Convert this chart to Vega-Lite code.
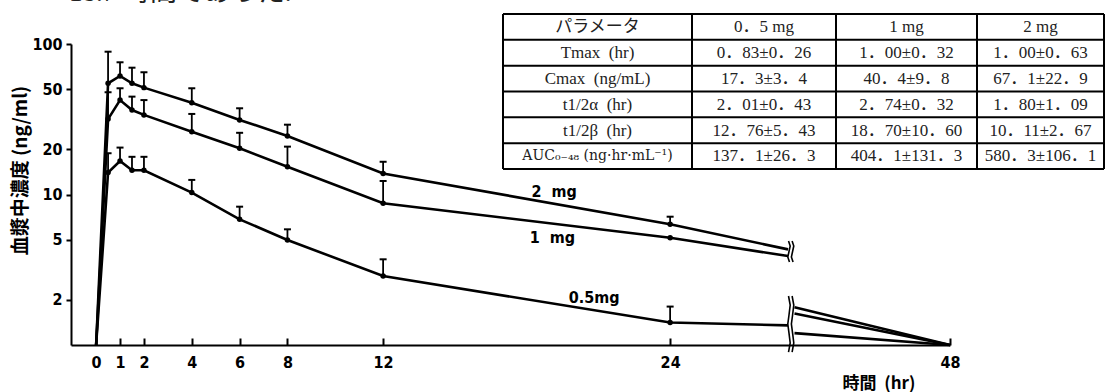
{
  "$schema": "https://vega.github.io/schema/vega-lite/v6.json",
  "width": 1033,
  "height": 335,
  "autosize": {"type": "none"},
  "padding": {"left": 71, "top": 10, "right": 2, "bottom": 47},
  "background": "white",
  "config": {"view": {"stroke": null}, "axis": {"grid": false}},
  "title": {
    "text": "18.7 時間であった.",
    "anchor": "start",
    "orient": "top",
    "frame": "group",
    "offset": 0,
    "dx": -2,
    "dy": 18,
    "font": "Liberation Serif, Noto Sans CJK JP",
    "fontSize": 27,
    "fontWeight": "normal",
    "color": "#222222",
    "baseline": "alphabetic"
  },
  "datasets": {
    "pk": [
      {"g": "2a", "t": 0, "c": 1},
      {"g": "2a", "t": 0.5, "c": 54.8, "u": 88.9, "o": 1},
      {"g": "2a", "t": 1, "c": 61.3, "u": 75.6, "o": 1},
      {"g": "2a", "t": 1.5, "c": 54.8, "u": 69.6, "o": 1},
      {"g": "2a", "t": 2, "c": 51.3, "u": 64.9, "o": 1},
      {"g": "2a", "t": 4, "c": 40.7, "u": 50.8, "o": 1},
      {"g": "2a", "t": 6, "c": 31.3, "u": 37.4, "o": 1},
      {"g": "2a", "t": 8, "c": 24.5, "u": 29.1, "o": 1},
      {"g": "2a", "t": 12, "c": 13.8, "u": 16.5, "o": 1},
      {"g": "2a", "t": 24, "c": 6.34, "u": 7.12, "o": 1},
      {"g": "2a", "t": 28.93, "c": 4.32},
      {"g": "2b", "t": 29.2, "c": 1.78},
      {"g": "2b", "t": 48, "c": 1},
      {"g": "1a", "t": 0, "c": 1},
      {"g": "1a", "t": 0.5, "c": 31.7, "u": 47.8, "o": 1},
      {"g": "1a", "t": 1, "c": 42.4, "u": 50.8, "o": 1},
      {"g": "1a", "t": 1.5, "c": 36.4, "u": 44.7, "o": 1},
      {"g": "1a", "t": 2, "c": 33.8, "u": 42.4, "o": 1},
      {"g": "1a", "t": 4, "c": 26.1, "u": 34.3, "o": 1},
      {"g": "1a", "t": 6, "c": 20.3, "u": 25.7, "o": 1},
      {"g": "1a", "t": 8, "c": 15.3, "u": 20.8, "o": 1},
      {"g": "1a", "t": 12, "c": 8.74, "u": 12.3, "o": 1},
      {"g": "1a", "t": 24, "c": 5.16, "o": 1},
      {"g": "1a", "t": 28.93, "c": 3.9},
      {"g": "1b", "t": 29.2, "c": 1.62},
      {"g": "1b", "t": 48, "c": 1},
      {"g": "05a", "t": 0, "c": 1},
      {"g": "05a", "t": 0.5, "c": 14.0, "u": 18.8, "o": 1},
      {"g": "05a", "t": 1, "c": 16.7, "u": 20.5, "o": 1},
      {"g": "05a", "t": 1.5, "c": 14.5, "u": 17.8, "o": 1},
      {"g": "05a", "t": 2, "c": 14.5, "u": 17.8, "o": 1},
      {"g": "05a", "t": 4, "c": 10.3, "u": 12.5, "o": 1},
      {"g": "05a", "t": 6, "c": 6.84, "u": 8.3, "o": 1},
      {"g": "05a", "t": 8, "c": 4.99, "u": 5.87, "o": 1},
      {"g": "05a", "t": 12, "c": 2.87, "u": 3.71, "o": 1},
      {"g": "05a", "t": 24, "c": 1.41, "u": 1.8, "o": 1},
      {"g": "05a", "t": 28.93, "c": 1.35},
      {"g": "05b", "t": 29.2, "c": 1.2},
      {"g": "05b", "t": 48, "c": 1}
    ],
    "labels": [
      {"t": 19.15, "c": 10.4, "lab": "2\u00a0 mg"},
      {"t": 19.08, "c": 5.14, "lab": "1\u00a0 mg"},
      {"t": 20.82, "c": 2.05, "lab": "0.5mg"}
    ],
    "brk": [
      {"g": "u1", "i": 0, "t": 28.95, "c": 4.91},
      {"g": "u1", "i": 1, "t": 29.02, "c": 4.55},
      {"g": "u1", "i": 2, "t": 28.97, "c": 4.18},
      {"g": "u1", "i": 3, "t": 28.92, "c": 3.84},
      {"g": "u1", "i": 4, "t": 28.99, "c": 3.56},
      {"g": "u2", "i": 0, "t": 29.10, "c": 4.91},
      {"g": "u2", "i": 1, "t": 29.17, "c": 4.55},
      {"g": "u2", "i": 2, "t": 29.12, "c": 4.18},
      {"g": "u2", "i": 3, "t": 29.07, "c": 3.84},
      {"g": "u2", "i": 4, "t": 29.14, "c": 3.56},
      {"g": "l1", "i": 0, "t": 28.95, "c": 2.116},
      {"g": "l1", "i": 1, "t": 29.02, "c": 1.844},
      {"g": "l1", "i": 2, "t": 28.97, "c": 1.583},
      {"g": "l1", "i": 3, "t": 28.92, "c": 1.379},
      {"g": "l1", "i": 4, "t": 28.97, "c": 1.201},
      {"g": "l1", "i": 5, "t": 29.02, "c": 1.031},
      {"g": "l1", "i": 6, "t": 28.95, "c": 0.898},
      {"g": "l2", "i": 0, "t": 29.10, "c": 2.116},
      {"g": "l2", "i": 1, "t": 29.17, "c": 1.844},
      {"g": "l2", "i": 2, "t": 29.12, "c": 1.583},
      {"g": "l2", "i": 3, "t": 29.07, "c": 1.379},
      {"g": "l2", "i": 4, "t": 29.12, "c": 1.201},
      {"g": "l2", "i": 5, "t": 29.17, "c": 1.031},
      {"g": "l2", "i": 6, "t": 29.10, "c": 0.898}
    ],
    "table": [
      {"r": 0, "col": 0, "txt": "パラメータ"},
      {"r": 0, "col": 1, "txt": "0．5 mg"},
      {"r": 0, "col": 2, "txt": "1 mg"},
      {"r": 0, "col": 3, "txt": "2 mg"},
      {"r": 1, "col": 0, "txt": "Tmax\u00a0 (hr)"},
      {"r": 1, "col": 1, "txt": "0．83±0．26"},
      {"r": 1, "col": 2, "txt": "1．00±0．32"},
      {"r": 1, "col": 3, "txt": "1．00±0．63"},
      {"r": 2, "col": 0, "txt": "Cmax\u00a0 (ng/mL)"},
      {"r": 2, "col": 1, "txt": "17．3±3．4"},
      {"r": 2, "col": 2, "txt": "40．4±9．8"},
      {"r": 2, "col": 3, "txt": "67．1±22．9"},
      {"r": 3, "col": 0, "txt": "t1/2α\u00a0 (hr)"},
      {"r": 3, "col": 1, "txt": "2．01±0．43"},
      {"r": 3, "col": 2, "txt": "2．74±0．32"},
      {"r": 3, "col": 3, "txt": "1．80±1．09"},
      {"r": 4, "col": 0, "txt": "t1/2β\u00a0 (hr)"},
      {"r": 4, "col": 1, "txt": "12．76±5．43"},
      {"r": 4, "col": 2, "txt": "18．70±10．60"},
      {"r": 4, "col": 3, "txt": "10．11±2．67"},
      {"r": 5, "col": 0, "txt": "AUC₀₋₄₈ (ng·hr·mL⁻¹)"},
      {"r": 5, "col": 1, "txt": "137．1±26．3"},
      {"r": 5, "col": 2, "txt": "404．1±131．3"},
      {"r": 5, "col": 3, "txt": "580．3±106．1"}
    ],
    "vlines": [{"k": 0}, {"k": 1}, {"k": 2}, {"k": 3}, {"k": 4}],
    "hlines": [{"k": 0}, {"k": 1}, {"k": 2}, {"k": 3}, {"k": 4}, {"k": 5}, {"k": 6}]
  },
  "layer": [
    {
      "layer": [
        {
          "data": {"name": "pk"},
          "mark": {"type": "line", "color": "black", "strokeWidth": 2.6},
          "encoding": {
            "x": {
              "field": "t",
              "type": "quantitative",
              "scale": {"domain": [-1.05, 29.2, 48], "range": [0, 723.5, 879], "nice": false, "zero": false},
              "axis": {
                "values": [0, 1, 2, 4, 6, 8, 12, 24, 48],
                "title": "時間\u00a0 (hr)",
                "titleFont": "Liberation Sans Narrow, Noto Sans CJK JP",
                "titleFontSize": 17,
                "titleFontWeight": "bold",
                "titleColor": "black",
                "titleAlign": "left",
                "titleX": 771,
                "titleY": 38,
                "titleBaseline": "middle",
                "domainColor": "black",
                "domainWidth": 2,
                "tickColor": "black",
                "tickWidth": 2,
                "tickSize": -7,
                "labelFont": "Liberation Sans Narrow, DejaVu Sans Condensed, sans-serif",
                "labelFontSize": 16,
                "labelFontWeight": "bold",
                "labelColor": "black",
                "labelPadding": 16,
                "labelFlush": false,
                "labelOverlap": false
              }
            },
            "y": {
              "field": "c",
              "type": "quantitative",
              "scale": {"type": "log", "domain": [1, 100], "range": [335, 34], "nice": false},
              "axis": {
                "values": [2, 5, 10, 20, 50, 100],
                "format": "d",
                "title": "血漿中濃度 (ng/ml)",
                "titleFont": "Liberation Sans Narrow, Noto Sans CJK JP",
                "titleFontSize": 19,
                "titleFontWeight": "bold",
                "titleColor": "black",
                "titleAngle": 270,
                "titleAlign": "center",
                "titleBaseline": "middle",
                "titleX": -51,
                "titleY": 160,
                "domainColor": "black",
                "domainWidth": 2,
                "tickColor": "black",
                "tickWidth": 2,
                "tickSize": 5,
                "labelFont": "Liberation Sans Narrow, DejaVu Sans Condensed, sans-serif",
                "labelFontSize": 16,
                "labelFontWeight": "bold",
                "labelColor": "black",
                "labelPadding": 4,
                "labelFlush": false,
                "labelOverlap": false
              }
            },
            "detail": {"field": "g"}
          }
        },
        {
          "data": {"name": "pk"},
          "transform": [{"filter": "isValid(datum.u)"}],
          "mark": {"type": "rule", "color": "black", "strokeWidth": 1.8},
          "encoding": {
            "x": {"field": "t", "type": "quantitative"},
            "y": {"field": "c", "type": "quantitative"},
            "y2": {"field": "u"}
          }
        },
        {
          "data": {"name": "pk"},
          "transform": [{"filter": "isValid(datum.u)"}],
          "mark": {"type": "tick", "orient": "horizontal", "color": "black", "size": 7, "thickness": 2, "opacity": 1},
          "encoding": {
            "x": {"field": "t", "type": "quantitative"},
            "y": {"field": "u", "type": "quantitative"}
          }
        },
        {
          "data": {"name": "pk"},
          "transform": [{"filter": "datum.o == 1"}],
          "mark": {"type": "circle", "color": "black", "opacity": 1, "size": 30},
          "encoding": {
            "x": {"field": "t", "type": "quantitative"},
            "y": {"field": "c", "type": "quantitative"}
          }
        },
        {
          "data": {"name": "labels"},
          "mark": {"type": "text", "font": "Liberation Sans Narrow, DejaVu Sans Condensed, sans-serif", "fontSize": 16, "fontWeight": "bold", "color": "black", "align": "center", "baseline": "middle"},
          "encoding": {
            "x": {"field": "t", "type": "quantitative"},
            "y": {"field": "c", "type": "quantitative"},
            "text": {"field": "lab"}
          }
        },
        {
          "data": {"name": "brk"},
          "mark": {"type": "line", "color": "black", "strokeWidth": 1.6},
          "encoding": {
            "x": {"field": "t", "type": "quantitative"},
            "y": {"field": "c", "type": "quantitative"},
            "detail": {"field": "g"},
            "order": {"field": "i", "type": "quantitative"}
          }
        }
      ]
    },
    {
      "layer": [
        {
          "data": {"name": "vlines"},
          "mark": {"type": "rule", "color": "black", "strokeWidth": 2},
          "encoding": {
            "x": {"field": "k", "type": "quantitative", "scale": {"domain": [0, 1, 2, 3, 4], "range": [432, 621, 765, 906, 1033], "nice": false, "zero": false}, "axis": null},
            "y": {"datum": 0, "type": "quantitative", "scale": {"domain": [0, 6], "range": [4, 159], "nice": false, "zero": false}, "axis": null},
            "y2": {"datum": 6}
          }
        },
        {
          "data": {"name": "hlines"},
          "mark": {"type": "rule", "color": "black", "strokeWidth": 2},
          "encoding": {
            "x": {"datum": 0, "type": "quantitative"},
            "x2": {"datum": 4},
            "y": {"field": "k", "type": "quantitative"}
          }
        }
      ]
    },
    {
      "data": {"name": "table"},
      "layer": [
        {
          "transform": [{"filter": "datum.r != 5 || datum.col != 0"}],
          "mark": {"type": "text", "font": "Liberation Serif, DejaVu Serif, Noto Sans CJK JP", "fontSize": 17, "color": "#222222", "align": "center", "baseline": "middle"},
          "encoding": {
            "x": {"field": "col", "type": "quantitative", "scale": {"domain": [0, 1, 2, 3], "range": [526.5, 693, 835.5, 969.5], "nice": false, "zero": false}, "axis": null},
            "y": {"field": "r", "type": "quantitative", "scale": {"domain": [0, 5], "range": [16.9, 146.4], "nice": false, "zero": false}, "axis": null},
            "text": {"field": "txt"}
          }
        },
        {
          "transform": [{"filter": "datum.r == 5 && datum.col == 0"}],
          "mark": {"type": "text", "font": "DejaVu Serif, Noto Sans CJK JP", "fontSize": 14, "color": "#222222", "align": "center", "baseline": "middle"},
          "encoding": {
            "x": {"field": "col", "type": "quantitative"},
            "y": {"field": "r", "type": "quantitative"},
            "text": {"field": "txt"}
          }
        }
      ]
    }
  ],
  "resolve": {"scale": {"x": "independent", "y": "independent"}, "axis": {"x": "independent", "y": "independent"}}
}
